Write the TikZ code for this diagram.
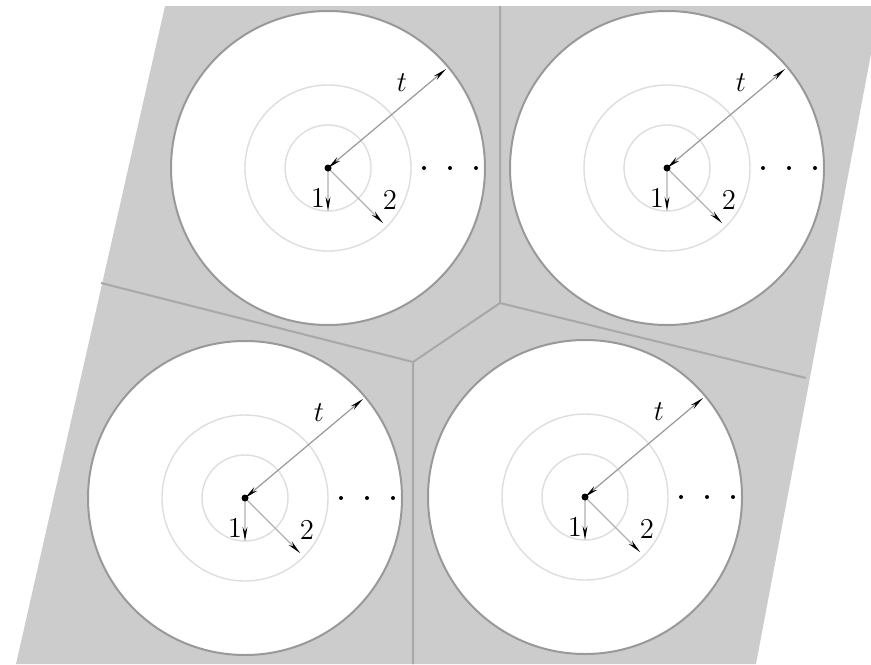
\documentclass[tikz,border=0pt]{standalone}
\usepackage{amsmath}
\usepackage{tikz}
\usepackage{xcolor}
\usetikzlibrary{arrows.meta}

\definecolor{cellgray}{gray}{0.8}
\definecolor{rimgray}{gray}{0.6}
\definecolor{ringgray}{gray}{0.87}
\definecolor{edgegray}{gray}{0.66}

\begin{document}
\begin{tikzpicture}[x=0.5pt, y=-0.5pt,
    rim/.style={draw=rimgray, line width=1pt, fill=white},
    ring/.style={draw=ringgray, line width=0.7pt},
    wall/.style={draw=edgegray, line width=1pt},
    pin/.tip={Stealth[length=7pt,width=2.4pt,black]},
    lbl/.style={font=\Large, inner sep=0pt}]
    \useasboundingbox (0,0) rectangle (871,664);
    \clip (0,0) rectangle (871,664);

    % Cell background
    \fill[cellgray] (165,6) -- (880,6) -- (756,664) -- (16,664) -- cycle;

    % Cell walls
    \coordinate (V1) at (500,303);
    \coordinate (V2) at (413,362);
    \coordinate (Wtop) at (500,6);
    \coordinate (Wbot) at (413,664);
    \coordinate (Wright) at (806,378);
    \coordinate (Wleft) at (101,283);
    \draw[wall] (Wtop) -- (V1) -- (V2) -- (Wbot);
    \draw[wall] (V1) -- (Wright);
    \draw[wall] (V2) -- (Wleft);

    % Particles
    \foreach \n/\x/\y in {a/328/168, b/667/168, c/245/498, d/585/497} {
        \coordinate (c\n) at (\x,\y);
        \draw[rim] (c\n) circle (157);
        \draw[ring] (c\n) circle (43);
        \draw[ring] (c\n) circle (83);

        % Radii
        \path (c\n) ++(-40:154) coordinate (e\n);
        \path (c\n) ++(90:43) coordinate (r\n);
        \path (c\n) ++(45:78) coordinate (s\n);
        \draw[rimgray, line width=0.6pt, pin-pin] (c\n) -- (e\n);
        \draw[ringgray!80!gray, line width=0.6pt, -pin] (c\n) -- (r\n);
        \draw[gray!60, line width=0.6pt, -pin] (c\n) -- (s\n);
        \fill[black] (c\n) circle (3.5);

        % Dots
        \foreach \d in {96,122,148}
            \fill[black] (c\n) ++(\d,0) circle (2);

        % Labels
        \node[lbl] (t\n) at ([shift={(74,-85)}]c\n) {$t$};
        \node[lbl] (one\n) at ([shift={(-10,30)}]c\n) {1};
        \node[lbl] (two\n) at ([shift={(62,32)}]c\n) {2};
    }
\end{tikzpicture}
\end{document}
